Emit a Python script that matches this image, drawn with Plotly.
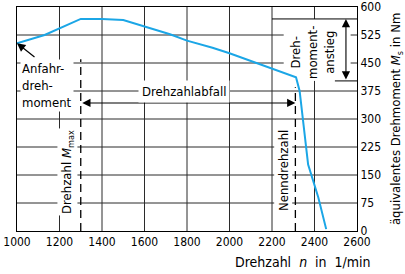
import plotly.graph_objects as go

# data
n_rpm = [1000, 1130, 1300, 1400, 1500, 1600, 1720, 1800, 1920, 2000, 2150, 2313, 2330, 2350, 2370, 2418, 2455]
M_Nm = [503, 525, 568, 568, 565, 547, 527, 510, 491, 476, 445, 412, 375, 280, 178, 90, 5]

x_ticks = [1000, 1200, 1400, 1600, 1800, 2000, 2200, 2400, 2600]
y_ticks = [0, 75, 150, 225, 300, 375, 450, 525, 600]

n_Mmax = 1300      # Drehzahl bei M_max
n_nenn = 2310      # Nenndrehzahl
M_max = 568
M_low = 402
M_arrow = 343
n_anstieg = 2548
box_n = [2255, 2570]   # open area around "Drehmomentanstieg"

FONT = "DejaVu Sans Condensed, Liberation Sans Narrow, Roboto Condensed, DejaVu Sans, sans-serif"
BLUE = "#1ba6e6"
GRID = "#2b2b2b"

fig = go.Figure()
# grid lines: one small line trace per segment, built from the tick arrays
for xv in x_ticks[1:-1]:
    segs = [(0, M_low), (M_max, 600)] if box_n[0] < xv < box_n[1] else [(0, 600)]
    for a, b in segs:
        fig.add_trace(go.Scatter(x=[xv, xv], y=[a, b], mode="lines", cliponaxis=False,
                                 line=dict(color=GRID, width=1), showlegend=False, hoverinfo="skip"))
for yv in y_ticks[1:-1]:
    segs = [(1000, box_n[0]), (box_n[1], 2600)] if M_low < yv < M_max else [(1000, 2600)]
    for a, b in segs:
        fig.add_trace(go.Scatter(x=[a, b], y=[yv, yv], mode="lines", cliponaxis=False,
                                 line=dict(color=GRID, width=1), showlegend=False, hoverinfo="skip"))

fig.add_trace(go.Scatter(x=n_rpm, y=M_Nm, mode="lines",
                         line=dict(color=BLUE, width=2), showlegend=False, hoverinfo="skip"))

shapes = [
    dict(type="line", x0=n_Mmax, x1=n_Mmax, y0=0, y1=460,
         line=dict(color="black", width=1.3, dash="8px,5px")),
    dict(type="line", x0=n_nenn, x1=n_nenn, y0=0, y1=385,
         line=dict(color="black", width=1.3, dash="8px,5px")),
    dict(type="line", x0=2200, x1=2600, y0=M_max, y1=M_max, line=dict(color="black", width=1)),
    dict(type="line", x0=2496, x1=2600, y0=M_low, y1=M_low, line=dict(color="black", width=1)),
]

ann = []
ann.append(dict(x=n_rpm[0], y=M_Nm[0], xref="x", yref="y", text="", showarrow=True,
                ax=19, ay=15, arrowhead=2, arrowsize=1.4, arrowwidth=1.2, arrowcolor="black", standoff=0))
ann.append(dict(x=1012, y=389, xref="x", yref="y", xanchor="left", yanchor="middle", align="left",
                text="Anfahr-<br>dreh-<br>moment", showarrow=False, bgcolor="white",
                font=dict(family=FONT, size=13, color="black")))
ann.append(dict(x=n_nenn, y=M_arrow, ax=n_Mmax, ay=M_arrow, xref="x", yref="y", axref="x", ayref="y",
                text="", showarrow=True, arrowside="end+start", arrowhead=2, startarrowhead=2,
                arrowsize=1.5, startarrowsize=1.5, arrowwidth=1.1, arrowcolor="black",
                standoff=0, startstandoff=0))
ann.append(dict(x=1786, y=375, xref="x", yref="y", text="Drehzahlabfall", showarrow=False,
                bgcolor="white", borderpad=3, font=dict(family=FONT, size=13, color="black")))
ann.append(dict(x=n_anstieg, y=M_max, ax=n_anstieg, ay=M_low, xref="x", yref="y", axref="x", ayref="y",
                text="", showarrow=True, arrowside="end+start", arrowhead=2, startarrowhead=2,
                arrowsize=1.5, startarrowsize=1.5, arrowwidth=1.1, arrowcolor="black",
                standoff=0, startstandoff=0))
ann.append(dict(x=2393, y=477, xref="x", yref="y", text="Dreh-<br>moment-<br>anstieg",
                showarrow=False, textangle=-90, font=dict(family=FONT, size=13, color="black")))
ann.append(dict(x=1235, y=158, xref="x", yref="y", text="Drehzahl <i>M</i><sub>max</sub>",
                showarrow=False, textangle=-90, bgcolor="white",
                font=dict(family=FONT, size=13, color="black")))
ann.append(dict(x=2251, y=163, xref="x", yref="y", text="Nenndrehzahl",
                showarrow=False, textangle=-90, bgcolor="white",
                font=dict(family=FONT, size=13, color="black")))
ann.append(dict(x=0.84, y=-0.14, xref="paper", yref="paper", xanchor="center", yanchor="middle",
                text="Drehzahl  <i>n</i>  in  1/min", showarrow=False,
                font=dict(family=FONT, size=14, color="black")))
ann.append(dict(x=1.115, y=0.5, xref="paper", yref="paper", xanchor="center", yanchor="middle",
                text="äquivalentes Drehmoment <i>M</i><sub>s</sub> in Nm", showarrow=False,
                textangle=-90, font=dict(family=FONT, size=13, color="black")))

fig.update_layout(
    width=405, height=274,
    margin=dict(l=17, r=48, t=7, b=43),
    paper_bgcolor="white", plot_bgcolor="white",
    shapes=shapes, annotations=ann,
    showlegend=False,
    xaxis=dict(range=[1000, 2600], tickvals=x_ticks, ticktext=[str(v) for v in x_ticks],
               showgrid=False, zeroline=False, automargin=False,
               showline=True, linecolor="black", linewidth=1, mirror=True, ticks="",
               tickfont=dict(family=FONT, size=12, color="black")),
    yaxis=dict(range=[0, 600], tickvals=y_ticks, ticktext=[str(v) for v in y_ticks], side="right",
               showgrid=False, zeroline=False, automargin=False,
               showline=True, linecolor="black", linewidth=1, mirror=True, ticks="",
               tickfont=dict(family=FONT, size=12, color="black")),
)

fig.write_html("out.html", config={"displayModeBar": False},
               post_script="document.body.style.margin='0px';")
